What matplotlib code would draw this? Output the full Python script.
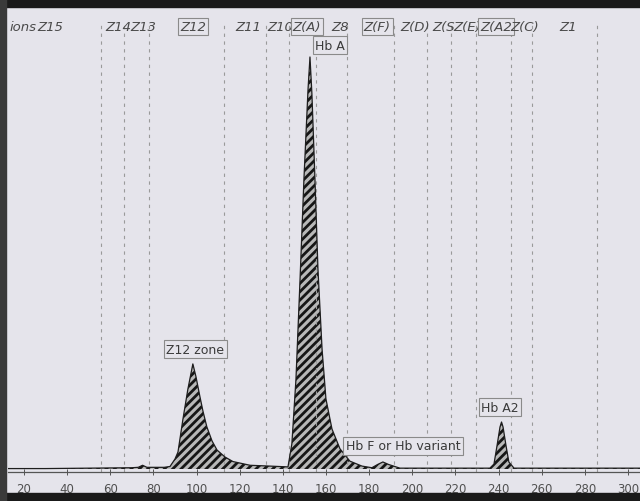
import matplotlib
matplotlib.use("Agg")
import matplotlib.pyplot as plt
from matplotlib.patches import Rectangle

# electropherogram trace
trace_x = [12, 30, 50, 70, 73, 75, 77, 85, 87.7, 90.0, 91.4, 93.7, 96.0, 98.3, 99.7, 101.6,
           103.0, 104.8, 107.2, 109.5, 113.2, 116.9, 124.8, 134.0, 142.4, 144.2, 146.1, 148.0,
           149.8, 151.7, 152.6, 153.5, 154.9, 156.3, 158.2, 160.0, 162.8, 166.5, 171.1, 176.7,
           181.3, 184, 186.4, 189, 194.3, 210, 230, 236.0, 237.9, 239.3, 240.7, 241.4, 242.1,
           243.5, 244.8, 247.2, 260, 280, 306]
trace_y = [0.1, 0.1, 0.2, 0.3, 0.4, 0.9, 0.4, 0.4, 0.6, 2.4, 4.1, 12.1, 19.4, 25.5, 22.5, 17.5,
           14.0, 10.2, 6.8, 4.6, 2.9, 1.8, 0.9, 0.7, 0.5, 6.1, 21.8, 46.1,
           70.4, 92.2, 100, 91.0, 70.4, 48.5, 29.1, 17.0, 9.7, 4.9, 1.9, 0.7,
           0.3, 1.1, 1.7, 1.1, 0.2, 0.2, 0.2, 0.2, 1.2, 5.6, 10.2, 11.4, 10.2,
           5.6, 1.7, 0.2, 0.2, 0.2, 0.2]

# zone limits (dashed)
zone_lines = [55.7, 66.4, 78.0, 112.7, 132.2, 142.9, 155.4, 169.7, 191.5, 206.8, 218.0,
              229.5, 245.8, 255.5, 285.6]

# zone names on top
zone_names = ["Z15", "Z14", "Z13", "Z12", "Z11", "Z10", "Z(A)", "Z8", "Z(F)", "Z(D)",
              "Z(S", "Z(E)", "Z(A2", "Z(C)", "Z1"]
zone_pos = [32.1, 63.6, 75.2, 98.3, 123.8, 138.7, 151.2, 166.5, 183.7, 201.3, 214.7,
            225.4, 238.8, 252.3, 272.2]
boxed_zones = ["Z12", "Z(A)", "Z(F)", "Z(A2"]

# peak labels
peak_labels = ["Hb A", "Z12 zone", "Hb F or Hb variant", "Hb A2"]
peak_lx = [161.9, 99.3, 195.7, 240.7]
peak_ly = [102.9, 29.1, 5.6, 15.0]

xticks = list(range(20, 301, 20))

bg = "#e5e4eb"
plt.rcParams["hatch.linewidth"] = 2.0
plt.rcParams["hatch.color"] = "#161616"

fig = plt.figure(figsize=(6.4, 5.02), dpi=100, facecolor=bg)
ax = fig.add_axes([0.0125, 0.0578, 0.9875, 0.926])
ax.set_facecolor(bg)

ax.vlines(zone_lines, -0.7, 108.5, colors="#9a9a9a", linestyles=(0, (3, 4)), linewidth=0.8)

ax.fill_between(trace_x, trace_y, 0, facecolor="#b8b8b8", hatch="////", edgecolor="#161616",
                linewidth=0)
ax.plot(trace_x, trace_y, color="#1e1e1e", linewidth=0.9)

for name, xp in zip(zone_names, zone_pos):
    kw = {}
    if name in boxed_zones:
        kw["bbox"] = dict(boxstyle="square,pad=0.15", facecolor=bg, edgecolor="#8a8a8a", linewidth=0.8)
    ax.text(xp, 107.5, name, ha="center", va="center", fontsize=9.5, style="italic",
            color="#4a4a4a", **kw)
ax.text(13.2, 107.5, "ions", ha="left", va="center", fontsize=9.5, style="italic",
        color="#4a4a4a")

for lab, lx, ly in zip(peak_labels, peak_lx, peak_ly):
    ax.text(lx, ly, lab, ha="center", va="center", fontsize=9, color="#3a3a3a",
            bbox=dict(boxstyle="square,pad=0.2", facecolor=bg, edgecolor="#8a8a8a", linewidth=0.8))

ax.set_xlim(12.6, 305.6)
ax.set_ylim(-0.73, 112.1)
ax.set_xticks(xticks)
ax.set_yticks([])
for s in ["top", "right", "left"]:
    ax.spines[s].set_visible(False)
ax.spines["bottom"].set_color("#555555")
ax.spines["bottom"].set_linewidth(0.9)
ax.tick_params(axis="x", direction="inout", length=4, width=0.7, colors="#555555",
               labelsize=8.5, labelcolor="#505050", pad=5)

# dark edges of the photo
fig.patches.append(Rectangle((0, 0.984), 1, 0.016, transform=fig.transFigure, color="#1a1a1a", zorder=10))
fig.patches.append(Rectangle((0, 0), 1, 0.016, transform=fig.transFigure, color="#1a1a1a", zorder=10))
fig.patches.append(Rectangle((0, 0), 0.01, 1, transform=fig.transFigure, color="#3a3a3a", zorder=10))

fig.savefig("out.png", dpi=100, facecolor=bg)
